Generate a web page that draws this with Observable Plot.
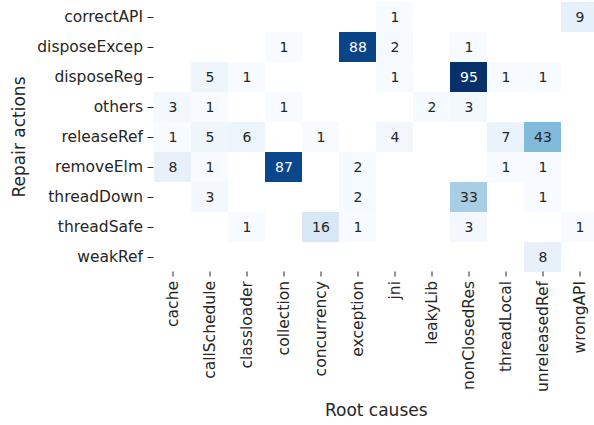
<!DOCTYPE html>
<html>
<head>
<meta charset="utf-8">
<script src="https://cdn.jsdelivr.net/npm/d3@7"></script>
<script src="https://cdn.jsdelivr.net/npm/@observablehq/plot@0.6"></script>
<style>
  html, body { margin: 0; padding: 0; background: #fff; overflow: hidden; }
  svg { font-family: "DejaVu Sans", sans-serif; }
  g[aria-label="x-axis label"], g[aria-label="y-axis label"] { font-size: 17px; }
  g[aria-label="x-axis label"] text, g[aria-label="y-axis label"] text { font-size: 17px; }
</style>
</head>
<body>
<div id="chart"></div>
<script>
const repairActions = ["correctAPI", "disposeExcep", "disposeReg", "others", "releaseRef", "removeElm", "threadDown", "threadSafe", "weakRef"];
const rootCauses = ["cache", "callSchedule", "classloader", "collection", "concurrency", "exception", "jni", "leakyLib", "nonClosedRes", "threadLocal", "unreleasedRef", "wrongAPI"];
// counts per repair action, in rootCauses order (0 = empty cell)
const correctAPI   = [0, 0, 0, 0, 0, 0, 1, 0, 0, 0, 0, 9];
const disposeExcep = [0, 0, 0, 1, 0, 88, 2, 0, 1, 0, 0, 0];
const disposeReg   = [0, 5, 1, 0, 0, 0, 1, 0, 95, 1, 1, 0];
const others       = [3, 1, 0, 1, 0, 0, 0, 2, 3, 0, 0, 0];
const releaseRef   = [1, 5, 6, 0, 1, 0, 4, 0, 0, 7, 43, 0];
const removeElm    = [8, 1, 0, 87, 0, 2, 0, 0, 0, 1, 1, 0];
const threadDown   = [0, 3, 0, 0, 0, 2, 0, 0, 33, 0, 1, 0];
const threadSafe   = [0, 0, 1, 0, 16, 1, 0, 0, 3, 0, 0, 1];
const weakRef      = [0, 0, 0, 0, 0, 0, 0, 0, 0, 0, 8, 0];
const matrix = [correctAPI, disposeExcep, disposeReg, others, releaseRef, removeElm, threadDown, threadSafe, weakRef];

const data = [];
repairActions.forEach((r, i) => {
  rootCauses.forEach((c, j) => {
    const v = matrix[i][j];
    if (v > 0) data.push({action: r, cause: c, value: v});
  });
});
const vmin = d3.min(data, d => d.value);
const vmax = d3.max(data, d => d.value);

const chart = Plot.plot({
  width: 594,
  height: 425,
  marginLeft: 153.5,
  marginRight: -4,
  marginTop: 1.5,
  marginBottom: 153.5,
  style: {fontFamily: "DejaVu Sans, sans-serif", color: "#262626", background: "white"},
  x: {domain: rootCauses, padding: 0},
  y: {domain: repairActions, padding: 0},
  color: {type: "linear", scheme: "blues", domain: [vmin, vmax]},
  marks: [
    Plot.cell(data, {x: "cause", y: "action", fill: "value"}),
    Plot.text(data, {x: "cause", y: "action", text: d => String(d.value), fontSize: 14,
      fill: d => d.value > 60 ? "white" : "#262626"}),
    Plot.axisX({anchor: "bottom", tickRotate: -90, tickSize: 5, tickPadding: 4, fontSize: 15.5,
      label: "Root causes", labelAnchor: "center", labelOffset: 144, labelArrow: "none", stroke: "#262626"}),
    Plot.axisY({anchor: "left", tickSize: 6, tickPadding: 5, fontSize: 15.5,
      label: "Repair actions", labelAnchor: "center", labelOffset: 141, labelArrow: "none", stroke: "#262626"})
  ]
});
document.getElementById("chart").appendChild(chart);
</script>
</body>
</html>
